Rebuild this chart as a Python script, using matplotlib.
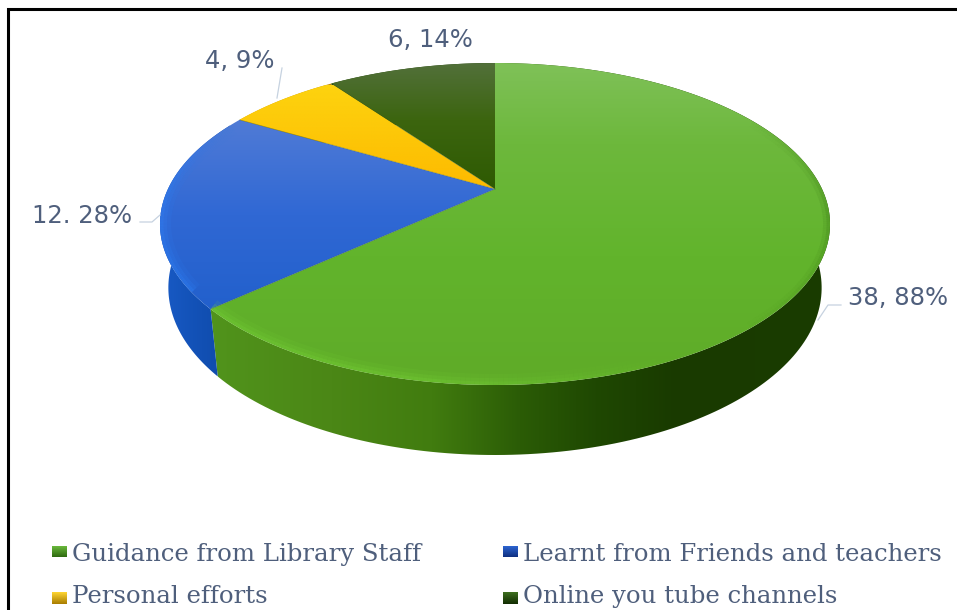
#!/usr/bin/env python3
import numpy as np
import matplotlib
matplotlib.use('Agg')
import matplotlib.pyplot as plt
from matplotlib.patches import Polygon
from matplotlib.collections import LineCollection
from matplotlib.colors import to_rgb

# chart values
categories = ['Guidance from Library Staff', 'Learnt from Friends and teachers',
              'Personal efforts', 'Online you tube channels']
values = [38, 12, 4, 6]
point_labels = ['38, 88%', '12. 28%', '4, 9%', '6, 14%']

W, H = 957, 610
fig = plt.figure(figsize=(W/100, H/100), dpi=100)
ax = fig.add_axes([0, 0, 1, 1])
ax.axis('off')

# perspective of the pie disc, fitted on the picture
CX, CY = 495, 189
K, A, C = 327, 112.3, -0.2174
TXT = '#4f5f7c'

def top_xy(t):
    u, v = np.sin(t), -np.cos(t)
    d = 1 + C*v
    return CX + K*u/d, (A*v + CY)/d

def low_xy(t):
    x, y = top_xy(t)
    v = -np.cos(t)
    return CX + (x-CX)*0.975, y + 62 + 8*v

def gradient(poly, stops, vertical=True, lo=None, hi=None):
    # poly gets filled with a linear gradient clipped to it
    pos = [s[0] for s in stops]
    cols = np.array([to_rgb(s[1]) for s in stops])
    g = np.linspace(0, 1, 256)
    rgb = np.stack([np.interp(g, pos, cols[:, i]) for i in range(3)], axis=-1)
    if vertical:
        img = rgb[:, None, :]
        ext = (poly[:, 0].min(), poly[:, 0].max(), hi, lo)
    else:
        img = rgb[None, :, :]
        ext = (lo, hi, poly[:, 1].max(), poly[:, 1].min())
    im = ax.imshow(img, extent=ext, aspect='auto', interpolation='bilinear', zorder=2)
    patch = Polygon(poly, closed=True, transform=ax.transData, fc='none', ec='none')
    ax.add_patch(patch)
    im.set_clip_path(patch)

top_stops = [
    [(0, '#7fc158'), (0.25, '#6db83c'), (0.6, '#62b42c'), (1, '#5fab28')],
    [(0, '#507bd6'), (0.5, '#3068d4'), (1, '#2260cc')],
    [(0, '#fdd30f'), (1, '#fdba00')],
    [(0, '#52703a'), (0.45, '#3c650f'), (1, '#2e5a02')],
]
top_range = [(63, 385), (120, 310), (85, 189), (63, 189)]
side_stops = [
    [(0, '#51941c'), (0.2, '#4b8716'), (0.36, '#417c0f'), (0.5, '#2b5c06'), (0.62, '#1f4802'), (0.75, '#193a00'), (1, '#1a3c00')],
    [(0, '#1a5cc8'), (0.5, '#1352b8'), (1, '#0f4aa8')],
    [(0, '#e0a800'), (1, '#c08c00')],
    [(0, '#24470a'), (1, '#1a3a02')],
]
side_range = [(205, 835), (155, 230), (230, 335), (325, 500)]

total = sum(values)
edges = np.cumsum([0] + values) / total * 2*np.pi

# side walls first, the top faces cover what is behind
for i in range(len(values)):
    t = np.linspace(edges[i], edges[i+1], 200)
    x1, y1 = top_xy(t)
    x2, y2 = low_xy(t)
    poly = np.column_stack([np.r_[x1, x2[::-1]], np.r_[y1, y2[::-1]]])
    gradient(poly, side_stops[i], vertical=False, lo=side_range[i][0], hi=side_range[i][1])

for i in range(len(values)):
    t = np.linspace(edges[i], edges[i+1], 200)
    x1, y1 = top_xy(t)
    poly = np.column_stack([np.r_[CX, x1], np.r_[CY, y1]])
    gradient(poly, top_stops[i], lo=top_range[i][0], hi=top_range[i][1])

# soft rim on the front edge of the disc, clipped to the disc
tt = np.linspace(0, 2*np.pi, 400)
disc = Polygon(np.column_stack(top_xy(tt)), closed=True, transform=ax.transData, fc='none', ec='none')
ax.add_patch(disc)

def rim(t0, t1, col, alpha, lw, ramp=(1, 1, 0)):
    t = np.linspace(t0, t1, 120)
    x, y = top_xy(t)
    pts = np.column_stack([x, y]).reshape(-1, 1, 2)
    segs = np.concatenate([pts[:-1], pts[1:]], axis=1)
    c = np.tile(to_rgb(col), (len(segs), 1))
    a = np.interp(np.linspace(0, 1, len(segs)), [0, 0.5, 1], np.array(ramp)*alpha)
    lc = LineCollection(segs, colors=np.column_stack([c, a]), linewidths=lw, zorder=3)
    ax.add_collection(lc)
    lc.set_clip_path(disc)

deg = np.pi/180
for lw, al in [(16, 0.10), (10, 0.16), (5, 0.22)]:
    rim(edges[1], 150*deg, '#7ad63a', al, lw)
    rim(edges[1] + 6*deg, edges[2] - 2*deg, '#2f80f5', al*1.3, lw)
for lw, al in [(10, 0.12), (5, 0.18)]:
    rim(60*deg, 140*deg, '#2f6a10', al, lw, ramp=(0, 1, 0))

# separators on the top face
for e in edges[1:-1]:
    x, y = top_xy(e)
    ax.plot([CX, x], [CY, y], color='#3a5a20', lw=0.5, alpha=0.4, zorder=3)

# data labels with their leader lines
label_pos = [(848, 305), (32, 223), (205, 68), (388, 47)]
leaders = [([841, 828, 818], [305, 305, 320]),
           ([140, 152, 160], [222, 222, 215]),
           ([282, 277], [68, 98]),
           ([], [])]
for lab, p, l in zip(point_labels, label_pos, leaders):
    ax.text(p[0], p[1], lab, ha='left', va='baseline', fontsize=17.5, color=TXT,
            family='DejaVu Sans', zorder=5)
    ax.plot(l[0], l[1], color='#c6d2e0', lw=0.9, zorder=4)

# legend
leg_x = [52, 503, 52, 503]
leg_y = [551.5, 551.5, 598, 598]
leg_base = [561, 561, 603, 603]
leg_stops = [[(0, '#6fc040'), (1, '#2f6a10')], [(0, '#2f6ad8'), (1, '#0f2f80')],
             [(0, '#ffd633'), (1, '#a87c00')], [(0, '#3f7020'), (1, '#122c02')]]
for name, x, y, b, st in zip(categories, leg_x, leg_y, leg_base, leg_stops):
    sq = np.array([[x, y-6], [x+15, y-6], [x+15, y+6], [x, y+6]], float)
    gradient(sq, st, lo=y-6, hi=y+6)
    ax.text(x+20, b, name, ha='left', va='baseline', fontsize=17.6, color=TXT,
            family='DejaVu Serif', zorder=5)

# frame of the screenshot
ax.plot([8, 8, W], [H, 9, 9], color='black', lw=2.2, zorder=6, solid_joinstyle='miter')

ax.set_xlim(0, W)
ax.set_ylim(H, 0)
fig.savefig('out.png', dpi=100, facecolor='white')
